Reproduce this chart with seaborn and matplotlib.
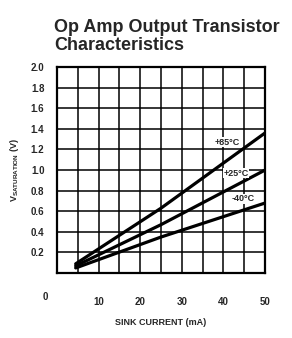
import matplotlib
matplotlib.use("Agg")
import matplotlib.pyplot as plt
import seaborn as sns
import pandas as pd

# Data
current_ma = [4.5, 25, 50]
v_85 = [0.09, 0.63, 1.36]
v_25 = [0.07, 0.47, 1.00]
v_m40 = [0.05, 0.35, 0.68]
series_names = ["+85°C", "+25°C", "-40°C"]
label_pos_x = [41.0, 43.0, 44.7]
label_pos_y = [1.27, 0.97, 0.72]
x_ticks = [10, 20, 30, 40, 50]
y_ticks = [0.2, 0.4, 0.6, 0.8, 1.0, 1.2, 1.4, 1.6, 1.8, 2.0]

sns.set_style("white")
plt.rcParams["font.family"] = ["Liberation Sans", "DejaVu Sans"]

rows = []
for name, vals in zip(series_names, [v_85, v_25, v_m40]):
    for x, y in zip(current_ma, vals):
        rows.append({"I": x, "V": y, "T": name})
df = pd.DataFrame(rows)

fig = plt.figure(figsize=(2.92, 3.38), dpi=100)
ax = fig.add_axes([0.195, 0.192, 0.713, 0.610])

sns.lineplot(data=df, x="I", y="V", hue="T", palette=["black"] * 3,
             linewidth=2.3, legend=False, ax=ax)

ax.set_xlim(0, 50)
ax.set_ylim(0, 2.0)
grid_x = [i * 5 for i in range(11)]
grid_y = [round(i * 0.2, 1) for i in range(11)]
ax.set_xticks(grid_x)
ax.set_xticklabels([str(t) if t in x_ticks else "" for t in grid_x])
ax.set_yticks(grid_y)
ax.set_yticklabels([f"{t:.1f}" if t in y_ticks else "" for t in grid_y])
ax.grid(True, color="black", linewidth=1.1)
ax.set_axisbelow(True)
ax.tick_params(length=0)
ax.tick_params(axis="x", pad=17, labelsize=7)
ax.tick_params(axis="y", pad=9, labelsize=7)
for lbl in ax.get_xticklabels() + ax.get_yticklabels():
    lbl.set_fontweight("bold")
for s in ax.spines.values():
    s.set_visible(True)
    s.set_color("black")
    s.set_linewidth(1.6)

ax.text(-0.055, -0.115, "0", transform=ax.transAxes, ha="center", va="center",
        fontsize=7, fontweight="bold")

for name, lx, ly in zip(series_names, label_pos_x, label_pos_y):
    ax.text(lx, ly, name, ha="center", va="center", fontsize=6.5,
            fontweight="bold",
            bbox=dict(facecolor="white", edgecolor="none", pad=0.3))

ax.set_xlabel("SINK CURRENT (mA)", fontsize=6.5, fontweight="bold", labelpad=8)
ax.set_ylabel(r"V$_{\mathregular{SATURATION}}$ (V)", fontsize=6.5,
              fontweight="bold", labelpad=7)

fig.text(0.185, 0.945, "Op Amp Output Transistor\nCharacteristics",
         ha="left", va="top", fontsize=13, fontweight="bold", linespacing=1.1)

fig.savefig("out.png", dpi=100)
